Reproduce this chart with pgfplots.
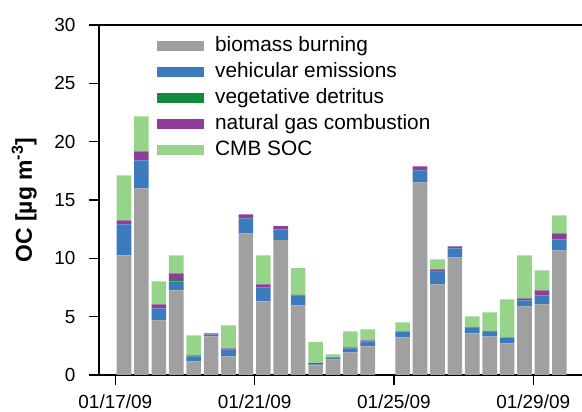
\documentclass[border=0pt]{standalone}
\usepackage{fontspec}
\setmainfont{Liberation Sans}
\usepackage{pgfplots}
\pgfplotsset{compat=1.18}
\usepackage{pgfplotstable}

\definecolor{cbio}{HTML}{A0A0A0}
\definecolor{cveh}{HTML}{3A7ABD}
\definecolor{cveg}{HTML}{118C3A}
\definecolor{cgas}{HTML}{8E3E98}
\definecolor{csoc}{HTML}{96D48A}

% x = days after 01/17/09 (12-h samples, bar at the middle)
\pgfplotstableread{
x     bio    veh   veg   gas   soc
0.25  10.26  2.66  0     0.34  3.86
0.75  16.00  2.40  0     0.77  3.00
1.25  4.69   1.03  0     0.34  1.97
1.75  7.26   0.77  0.12  0.57  1.54
2.25  1.17   0.43  0.09  0     1.71
2.75  3.31   0.17  0     0.09  0
3.25  1.60   0.60  0     0.09  1.97
3.75  12.14  1.29  0     0.34  0
4.25  6.32   1.20  0     0.25  2.49
4.75  11.55  0.94  0     0.26  0
5.25  5.97   0.83  0     0.06  2.30
5.75  0.83   0.09  0     0.09  1.80
6.25  1.34   0.17  0     0     0.26
6.75  1.94   0.35  0     0.08  1.37
7.25  2.46   0.43  0     0.08  0.94
8.25  3.23   0.51  0     0     0.77
8.75  16.51  1.03  0     0.35  0
9.25  7.77   1.09  0.05  0.15  0.85
9.75  10.09  0.77  0     0.17  0
10.25 3.57   0.46  0.06  0     0.94
10.75 3.31   0.38  0.05  0     1.63
11.25 2.71   0.52  0     0     3.26
11.75 5.89   0.51  0     0.17  3.69
12.25 6.06   0.77  0     0.43  1.71
12.75 10.69  0.94  0     0.51  1.55
}\oc

\begin{document}
\begin{tikzpicture}
\useasboundingbox (0,0) rectangle (582bp,412bp);
\begin{axis}[
    at={(99bp,37bp)}, anchor=south west,
    scale only axis,
    width=483bp, height=350bp,
    ybar stacked,
    bar width=0.42,
    xmin=-0.468, xmax=13.40,
    ymin=0, ymax=30,
    ytick={0,5,...,30},
    xtick={0,4,8,12},
    xticklabels={01/17/09,01/21/09,01/25/09,01/29/09},
    axis y line*=left,
    xtick pos=bottom,
    tick align=outside,
    major tick length=10bp,
    axis line style={line width=1.4bp},
    tick style={black, line width=1.3bp},
    /pgf/number format/assume math mode=true,
    ticklabel style={font=\fontsize{19}{20}\selectfont},
    xticklabel style={yshift=-6bp},
    yticklabel style={xshift=-10bp},
    ylabel={\textbf{OC [µg m\textsuperscript{-3}]}},
    every axis y label/.style={at={(axis description cs:-0.155,0.5)}, rotate=90,
        anchor=center, font=\fontsize{23}{24}\selectfont},
    legend cell align=left,
    legend image code/.code={\fill[#1] (4bp,-5bp) rectangle (51bp,5bp); \path (58bp,0bp);},
    legend style={at={(axis description cs:0.12,0.977)}, anchor=north west,
        draw=none, fill=none, inner sep=0pt,
        font=\fontsize{20.9}{22}\selectfont,
        nodes={text height=14bp, text depth=4bp, inner sep=4bp}},
]
\addplot[fill=cbio, draw=none] table[x=x, y=bio] {\oc};
\addplot[fill=cveh, draw=none] table[x=x, y=veh] {\oc};
\addplot[fill=cveg, draw=none] table[x=x, y=veg] {\oc};
\addplot[fill=cgas, draw=none] table[x=x, y=gas] {\oc};
\addplot[fill=csoc, draw=none] table[x=x, y=soc] {\oc};
\legend{biomass burning, vehicular emissions, vegetative detritus, natural gas combustion, CMB SOC}
\end{axis}
\end{tikzpicture}
\end{document}
